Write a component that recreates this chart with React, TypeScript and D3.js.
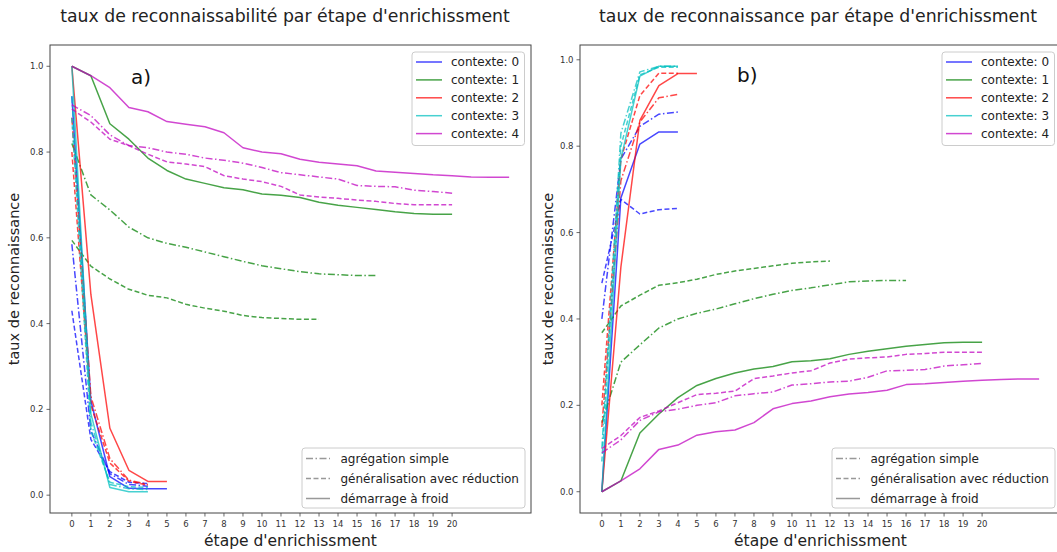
import React from "react";
import * as d3 from "d3";

// ---------- data ----------
const contextLabels = ["contexte: 0", "contexte: 1", "contexte: 2", "contexte: 3", "contexte: 4"];
const methodLabels = ["agrégation simple", "généralisation avec réduction", "démarrage à froid"];
const xTicks = d3.range(0, 21);
const yTicks = [0, 0.2, 0.4, 0.6, 0.8, 1.0];

// Panel a) — taux de reconnaissabilité
const a_c0_agg = [0.585, 0.15, 0.05, 0.025, 0.021];
const a_c0_gen = [0.43, 0.13, 0.055, 0.03, 0.027];
const a_c0_cold = [0.93, 0.22, 0.043, 0.016, 0.015, 0.015];
const a_c1_agg = [0.82, 0.70, 0.665, 0.625, 0.60, 0.587, 0.578, 0.567, 0.556, 0.545, 0.535, 0.528, 0.521, 0.516, 0.514, 0.512, 0.512];
const a_c1_gen = [0.594, 0.534, 0.504, 0.48, 0.466, 0.46, 0.445, 0.436, 0.429, 0.419, 0.414, 0.412, 0.41, 0.41];
const a_c1_cold = [1.0, 0.978, 0.866, 0.83, 0.786, 0.757, 0.737, 0.727, 0.717, 0.712, 0.702, 0.699, 0.694, 0.683, 0.676, 0.671, 0.666, 0.661, 0.657, 0.655, 0.655];
const a_c2_agg = [0.88, 0.23, 0.085, 0.035, 0.025];
const a_c2_gen = [0.80, 0.21, 0.075, 0.033, 0.023];
const a_c2_cold = [1.0, 0.468, 0.156, 0.058, 0.032, 0.032];
const a_c3_agg = [0.93, 0.17, 0.025, 0.015, 0.013];
const a_c3_gen = [0.88, 0.15, 0.03, 0.02, 0.018];
const a_c3_cold = [1.0, 0.19, 0.018, 0.008, 0.008];
const a_c4_agg = [0.91, 0.885, 0.84, 0.815, 0.81, 0.80, 0.795, 0.786, 0.781, 0.774, 0.764, 0.752, 0.747, 0.742, 0.737, 0.722, 0.72, 0.719, 0.711, 0.708, 0.704];
const a_c4_gen = [0.90, 0.87, 0.83, 0.815, 0.795, 0.777, 0.772, 0.766, 0.745, 0.737, 0.731, 0.72, 0.70, 0.695, 0.692, 0.688, 0.685, 0.68, 0.677, 0.677, 0.677];
const a_c4_cold = [1.0, 0.978, 0.95, 0.904, 0.894, 0.871, 0.865, 0.859, 0.845, 0.81, 0.80, 0.796, 0.783, 0.776, 0.772, 0.768, 0.756, 0.753, 0.75, 0.747, 0.745, 0.742, 0.741, 0.741];

// Panel b) — taux de reconnaissance
const b_c0_agg = [0.40, 0.77, 0.846, 0.874, 0.879];
const b_c0_gen = [0.483, 0.677, 0.643, 0.653, 0.656];
const b_c0_cold = [0, 0.68, 0.805, 0.833, 0.833];
const b_c1_agg = [0.16, 0.30, 0.34, 0.379, 0.40, 0.413, 0.423, 0.435, 0.447, 0.457, 0.466, 0.472, 0.479, 0.486, 0.488, 0.489, 0.489];
const b_c1_gen = [0.368, 0.43, 0.455, 0.478, 0.484, 0.492, 0.503, 0.511, 0.517, 0.523, 0.529, 0.532, 0.534];
const b_c1_cold = [0, 0.025, 0.136, 0.18, 0.218, 0.246, 0.262, 0.275, 0.284, 0.29, 0.301, 0.303, 0.308, 0.318, 0.325, 0.331, 0.337, 0.341, 0.345, 0.346, 0.346];
const b_c2_agg = [0.15, 0.72, 0.856, 0.912, 0.92];
const b_c2_gen = [0.2, 0.77, 0.917, 0.969, 0.969];
const b_c2_cold = [0, 0.52, 0.86, 0.94, 0.968, 0.968];
const b_c3_agg = [0.1, 0.83, 0.972, 0.985, 0.985];
const b_c3_gen = [0.07, 0.80, 0.965, 0.983, 0.983];
const b_c3_cold = [0, 0.77, 0.962, 0.985, 0.985];
const b_c4_agg = [0.09, 0.12, 0.165, 0.185, 0.191, 0.20, 0.206, 0.222, 0.227, 0.231, 0.247, 0.25, 0.254, 0.256, 0.265, 0.28, 0.281, 0.283, 0.291, 0.294, 0.297];
const b_c4_gen = [0.1, 0.13, 0.172, 0.187, 0.206, 0.225, 0.228, 0.233, 0.262, 0.268, 0.275, 0.28, 0.298, 0.307, 0.31, 0.312, 0.318, 0.32, 0.323, 0.323, 0.323];
const b_c4_cold = [0, 0.025, 0.053, 0.098, 0.108, 0.131, 0.139, 0.143, 0.16, 0.192, 0.204, 0.21, 0.22, 0.226, 0.23, 0.235, 0.248, 0.25, 0.253, 0.256, 0.258, 0.26, 0.261, 0.261];

const panelA = [
  [a_c0_agg, a_c0_gen, a_c0_cold],
  [a_c1_agg, a_c1_gen, a_c1_cold],
  [a_c2_agg, a_c2_gen, a_c2_cold],
  [a_c3_agg, a_c3_gen, a_c3_cold],
  [a_c4_agg, a_c4_gen, a_c4_cold],
];
const panelB = [
  [b_c0_agg, b_c0_gen, b_c0_cold],
  [b_c1_agg, b_c1_gen, b_c1_cold],
  [b_c2_agg, b_c2_gen, b_c2_cold],
  [b_c3_agg, b_c3_gen, b_c3_cold],
  [b_c4_agg, b_c4_gen, b_c4_cold],
];

// ---------- style ----------
const colors = ["#0000ff", "#008000", "#ff0000", "#00bfbf", "#bf00bf"];
const dashes = ["7,2.5,1.5,2.5", "5,2.5", null];
const FONT = "'DejaVu Sans', sans-serif";

type PanelProps = {
  data: number[][][];
  x0: number; x1: number; y0: number; y1: number;
  title: string; titleX: number;
  ylabelX: number;
  tag: string; tagX: number; tagY: number;
};

function Panel(p: PanelProps) {
  const all = p.data.flat();
  const maxLen = d3.max(all, (s) => s.length)! - 1;
  const yMin = d3.min(all, (s) => d3.min(s)!)!;
  const yMax = d3.max(all, (s) => d3.max(s)!)!;
  const xm = maxLen * 0.05;
  const ym = (yMax - yMin) * 0.05;
  const x = d3.scaleLinear().domain([-xm, maxLen + xm]).range([p.x0, p.x1]);
  const y = d3.scaleLinear().domain([yMin - ym, yMax + ym]).range([p.y1, p.y0]);
  const line = d3.line<number>().x((_, i) => x(i)).y((v) => y(v));
  const clipId = "clip" + p.x0;
  const cx = (p.x0 + p.x1) / 2;
  const cy = (p.y0 + p.y1) / 2;

  const legW = 112.5;
  const legX = p.x1 - 6.5 - legW;
  const legY = p.y0 + 7;
  const leg2W = 223;
  const leg2X = p.x1 - 6 - leg2W;
  const leg2Y = p.y1 - 65;

  return (
    <g>
      <text x={p.titleX} y={21.5} textAnchor="middle" fontSize={17.3} fontFamily={FONT} fill="#222">{p.title}</text>
      <defs>
        <clipPath id={clipId}>
          <rect x={p.x0} y={p.y0} width={p.x1 - p.x0} height={p.y1 - p.y0} />
        </clipPath>
      </defs>
      <g clipPath={`url(#${clipId})`}>
        {p.data.map((ctx, ci) =>
          ctx.map((s, mi) => (
            <path key={`${ci}-${mi}`} d={line(s)!} fill="none" stroke={colors[ci]} strokeOpacity={0.72}
              strokeWidth={1.5} strokeDasharray={dashes[mi] ?? undefined} strokeLinejoin="round" />
          ))
        )}
      </g>
      {/* spines */}
      <rect x={p.x0} y={p.y0} width={p.x1 - p.x0} height={p.y1 - p.y0} fill="none" stroke="#444" strokeWidth={1} />
      {/* x ticks */}
      {xTicks.map((t) => (
        <g key={"xt" + t}>
          <line x1={x(t)} x2={x(t)} y1={p.y1} y2={p.y1 + 3.5} stroke="#444" strokeWidth={0.8} />
          <text x={x(t)} y={p.y1 + 13.5} textAnchor="middle" fontSize={8.5} fontFamily={FONT} fill="#333">{t}</text>
        </g>
      ))}
      {yTicks.map((t) => (
        <g key={"yt" + t}>
          <line x1={p.x0 - 3.5} x2={p.x0} y1={y(t)} y2={y(t)} stroke="#444" strokeWidth={0.8} />
          <text x={p.x0 - 6.5} y={y(t) + 3} textAnchor="end" fontSize={8.5} fontFamily={FONT} fill="#333">{t.toFixed(1)}</text>
        </g>
      ))}
      <text x={cx} y={546} textAnchor="middle" fontSize={15.5} fontFamily={FONT} fill="#222">étape d'enrichissment</text>
      <text transform={`translate(${p.ylabelX},${cy}) rotate(-90)`} textAnchor="middle" fontSize={14.5} fontFamily={FONT} fill="#222">taux de reconnaissance</text>
      <text x={p.tagX} y={p.tagY} fontSize={20} fontFamily={FONT} fill="#111">{p.tag}</text>

      {/* context legend */}
      <rect x={legX} y={legY} width={legW} height={93.5} rx={3} fill="white" fillOpacity={0.8} stroke="#cccccc" strokeWidth={1} />
      {contextLabels.map((lab, i) => {
        const yy = legY + 10 + i * 17.9;
        return (
          <g key={lab}>
            <line x1={legX + 4} x2={legX + 30} y1={yy} y2={yy} stroke={colors[i]} strokeOpacity={0.72} strokeWidth={1.5} />
            <text x={legX + 39} y={yy + 4.3} fontSize={12} fontFamily={FONT} fill="#222">{lab}</text>
          </g>
        );
      })}
      {/* method legend */}
      <rect x={leg2X} y={leg2Y} width={leg2W} height={60} rx={3} fill="white" fillOpacity={0.8} stroke="#cccccc" strokeWidth={1} />
      {methodLabels.map((lab, i) => {
        const yy = leg2Y + 10.5 + i * 20;
        return (
          <g key={lab}>
            <line x1={leg2X + 4} x2={leg2X + 28} y1={yy} y2={yy} stroke="#808080" strokeOpacity={0.8} strokeWidth={1.5}
              strokeDasharray={dashes[i] ?? undefined} />
            <text x={leg2X + 38.5} y={yy + 4.3} fontSize={12} fontFamily={FONT} fill="#222">{lab}</text>
          </g>
        );
      })}
    </g>
  );
}

export default function App() {
  return (
    <svg width={1057} height={552} style={{ position: "absolute", left: 0, top: 0, background: "white" }}>
      <rect x={0} y={0} width={1057} height={552} fill="white" />
      <Panel data={panelA} x0={50} x1={531} y0={45} y1={513}
        title="taux de reconnaissabilité par étape d'enrichissment" titleX={285}
        ylabelX={19} tag="a)" tagX={131} tagY={84} />
      <Panel data={panelB} x0={580} x1={1061} y0={45} y1={513}
        title="taux de reconnaissance par étape d'enrichissment" titleX={818}
        ylabelX={553} tag="b)" tagX={737} tagY={82} />
    </svg>
  );
}
